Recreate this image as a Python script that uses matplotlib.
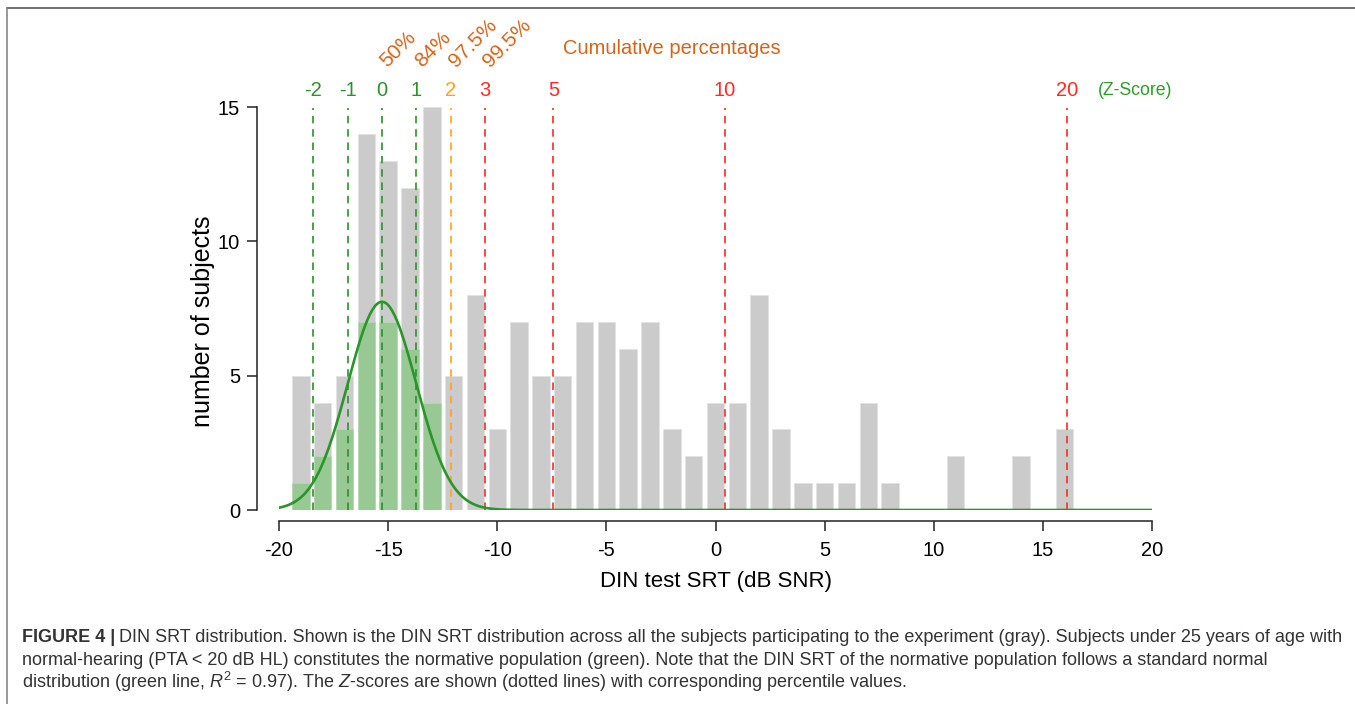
import numpy as np
import matplotlib
matplotlib.use('Agg')
import matplotlib.pyplot as plt
from matplotlib.lines import Line2D

plt.rcParams['font.family'] = ['Liberation Sans', 'DejaVu Sans']
plt.rcParams['mathtext.fontset'] = 'custom'
plt.rcParams['mathtext.rm'] = 'Liberation Sans'
plt.rcParams['mathtext.it'] = 'Liberation Sans:italic'

# Data
srt_bins = list(range(-19, 17))
all_counts = [5, 4, 5, 14, 13, 12, 15, 5, 8, 3, 7, 5, 5, 7, 7, 6, 7, 3, 2, 4,
              4, 8, 3, 1, 1, 1, 4, 1, 0, 0, 2, 0, 0, 2, 0, 3]
norm_bins = [-19, -18, -17, -16, -15, -14, -13]
norm_counts = [1, 2, 3, 7, 7, 6, 4]

# fitted normal (green line)
fit_mean = -15.28
fit_sd = 1.57
fit_peak = 7.75

z_scores = [-2, -1, 0, 1, 2, 3, 5, 10, 20]
z_colors = ['#2e8f2e', '#2e8f2e', '#2e8f2e', '#2e8f2e', '#ffa31a',
            '#ff2a2a', '#ff2a2a', '#ff2a2a', '#ff2a2a']
pct_labels = ['50%', '84%', '97.5%', '99.5%']
pct_z = [0, 1, 2, 3]

gray = '#cbcbcb'
lgreen = '#98c995'
dgreen = '#2a962a'
brown = '#d0651e'

fig = plt.figure(figsize=(13.55, 7.04), dpi=100)
ax = fig.add_axes([279/1355, 1 - 510/704, 873/1355, 403/704])

ax.bar(srt_bins, all_counts, width=0.8, color=gray, edgecolor='#e2e2e2', linewidth=0.6, zorder=1)
ax.bar(norm_bins, norm_counts, width=0.8, color=lgreen, edgecolor='#b5dab3', linewidth=0.6, zorder=2)

xs = np.linspace(-20, 20, 800)
ax.plot(xs, fit_peak * np.exp(-0.5 * ((xs - fit_mean) / fit_sd) ** 2), color=dgreen, lw=1.9, zorder=4)

for z, c in zip(z_scores, z_colors):
    xz = fit_mean + z * fit_sd
    ax.plot([xz, xz], [0, 14.95], color=c, lw=1.2, ls=(0, (4.5, 3.5)), zorder=3)
    ax.text(xz, 15.62, str(z), color=c, fontsize=14.5, ha='center', va='center')
ax.text(17.5, 15.62, '(Z-Score)', color='#2e9b2e', fontsize=12.7, ha='left', va='center')

for lab, z in zip(pct_labels, pct_z):
    xz = fit_mean + z * fit_sd
    ax.text(xz + 0.25, 16.45, lab, color=brown, fontsize=15, rotation=45,
            rotation_mode='anchor', ha='left', va='baseline', clip_on=False)
ax.text(-7.0, 17.17, 'Cumulative percentages', color=brown, fontsize=14.5, ha='left', va='center')

ax.set_xlim(-20, 20)
ax.set_ylim(0, 15)
ax.set_xticks([-20, -15, -10, -5, 0, 5, 10, 15, 20])
ax.set_xticklabels(['-20', '-15', '-10', '-5', '0', '5', '10', '15', '20'])
ax.set_yticks([0, 5, 10, 15])
for s in ['top', 'right']:
    ax.spines[s].set_visible(False)
ax.spines['left'].set_position(('outward', 16))
ax.spines['bottom'].set_position(('outward', 8))
for s in ['left', 'bottom']:
    ax.spines[s].set_linewidth(1.1)
    ax.spines[s].set_color('#222222')
ax.tick_params(axis='both', length=7, width=1.1, color='#222222', labelsize=14.5, pad=5)
ax.tick_params(axis='x', pad=7)
ax.set_xlabel('DIN test SRT (dB SNR)', fontsize=16, labelpad=8)
ax.set_ylabel('number of subjects', fontsize=18)
ax.yaxis.set_label_coords((215 - 279) / 873, (510 - 321) / 403)

# frame around the figure
fig.add_artist(Line2D([7/1355, 1], [1 - 8/704, 1 - 8/704], color='#555555', lw=1.2))
fig.add_artist(Line2D([7/1355, 7/1355], [0, 1 - 8/704], color='#888888', lw=1.2))

# caption
cap_col = '#333333'
cap_x = 22 / 1355
line_y = [1 - 642/704, 1 - 665/704, 1 - 688/704]
t0 = fig.text(cap_x, line_y[0], 'FIGURE 4 |', fontsize=13, fontweight='bold', color=cap_col, va='baseline')
fig.canvas.draw()
bb = t0.get_window_extent(fig.canvas.get_renderer())
fig.text(bb.x1 / fig.bbox.width + 0.003, line_y[0],
         'DIN SRT distribution. Shown is the DIN SRT distribution across all the subjects participating to the experiment (gray). Subjects under 25 years of age with',
         fontsize=13, color=cap_col, va='baseline')
fig.text(cap_x, line_y[1],
         'normal-hearing (PTA < 20 dB HL) constitutes the normative population (green). Note that the DIN SRT of the normative population follows a standard normal',
         fontsize=13, color=cap_col, va='baseline')
fig.text(cap_x, line_y[2],
         r'distribution (green line, $R^2$ = 0.97). The $Z$-scores are shown (dotted lines) with corresponding percentile values.',
         fontsize=13, color=cap_col, va='baseline')

fig.savefig('out.png', dpi=100)
